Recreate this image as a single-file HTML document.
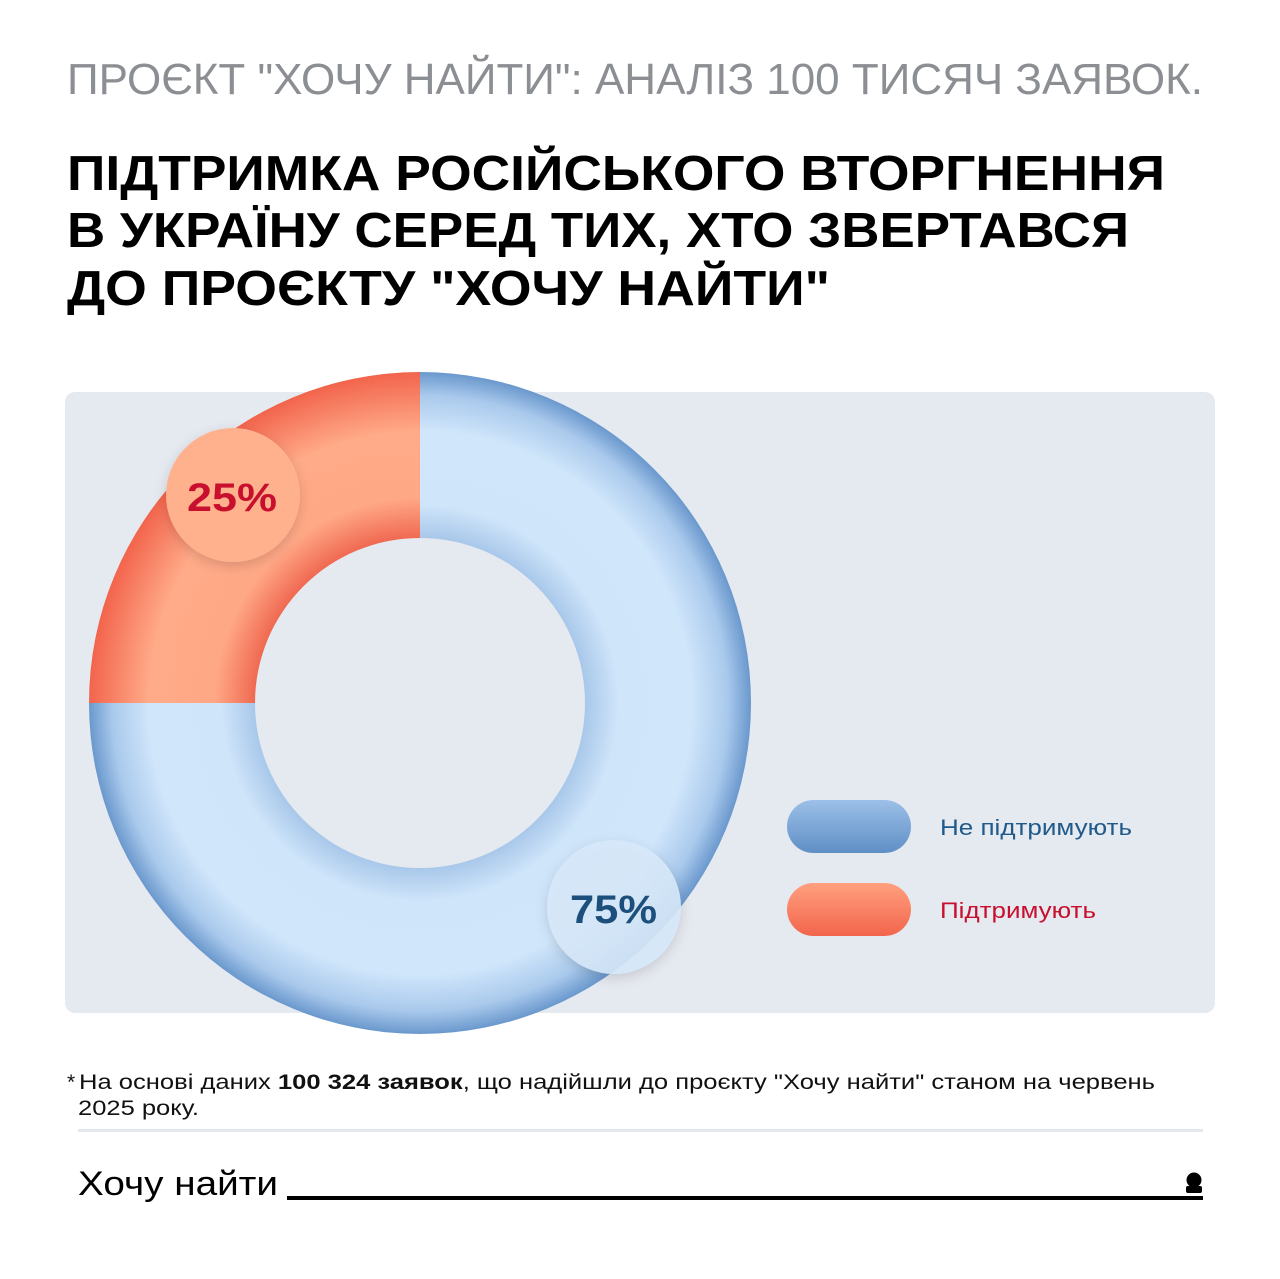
<!DOCTYPE html>
<html><head><meta charset="utf-8"><style>
html,body{margin:0;padding:0;background:#fff}
svg{display:block}
text{font-family:"Liberation Sans",sans-serif}
</style></head><body>
<svg width="1280" height="1279" viewBox="0 0 1280 1279" xmlns="http://www.w3.org/2000/svg">
<defs>
<radialGradient id="gb" cx="420" cy="703" r="331" gradientUnits="userSpaceOnUse">
<stop offset="0.5" stop-color="#a9c8ea"/>
<stop offset="0.6" stop-color="#cfe5fa"/>
<stop offset="0.82" stop-color="#d0e6fb"/>
<stop offset="0.93" stop-color="#a9c9ec"/>
<stop offset="1" stop-color="#6a98cd"/>
</radialGradient>
<radialGradient id="go" cx="420" cy="703" r="331" gradientUnits="userSpaceOnUse">
<stop offset="0.5" stop-color="#f06a52"/>
<stop offset="0.62" stop-color="#ffa886"/>
<stop offset="0.82" stop-color="#ffaa88"/>
<stop offset="1" stop-color="#f2644c"/>
</radialGradient>
<linearGradient id="pb" x1="0" y1="0" x2="0" y2="1"><stop offset="0" stop-color="#9cc0e8"/><stop offset="1" stop-color="#5f8fc6"/></linearGradient>
<linearGradient id="po" x1="0" y1="0" x2="0" y2="1"><stop offset="0" stop-color="#ffa07e"/><stop offset="1" stop-color="#f2654c"/></linearGradient>
<filter id="sh" x="-30%" y="-30%" width="160%" height="160%"><feDropShadow dx="0" dy="4" stdDeviation="6" flood-color="#000" flood-opacity="0.15"/></filter>
</defs>
<text x="67" y="94" font-size="43.5" fill="#8b8e92" textLength="1136" lengthAdjust="spacingAndGlyphs">ПРОЄКТ "ХОЧУ НАЙТИ": АНАЛІЗ 100 ТИСЯЧ ЗАЯВОК.</text>
<g font-size="49" font-weight="bold" fill="#000">
<text x="67" y="190" textLength="1098" lengthAdjust="spacingAndGlyphs">ПІДТРИМКА РОСІЙСЬКОГО ВТОРГНЕННЯ</text>
<text x="67" y="247" textLength="1062" lengthAdjust="spacingAndGlyphs">В УКРАЇНУ СЕРЕД ТИХ, ХТО ЗВЕРТАВСЯ</text>
<text x="67" y="305" textLength="763" lengthAdjust="spacingAndGlyphs">ДО ПРОЄКТУ "ХОЧУ НАЙТИ"</text>
</g>
<rect x="65" y="392" width="1150" height="621" rx="10" fill="#e5e9f0"/>
<path d="M420 372 A331 331 0 1 1 89 703 L255 703 A165 165 0 1 0 420 538 Z" fill="url(#gb)"/>
<path d="M89 703 A331 331 0 0 1 420 372 L420 538 A165 165 0 0 0 255 703 Z" fill="url(#go)"/>
<circle cx="233" cy="495" r="67" fill="#ffb18d" filter="url(#sh)"/>
<text x="187" y="511" font-size="40" font-weight="bold" fill="#c8102e" textLength="90" lengthAdjust="spacingAndGlyphs">25%</text>
<circle cx="614" cy="907" r="67" fill="#d6e8f8" fill-opacity="0.9" filter="url(#sh)"/>
<text x="570" y="923" font-size="40" font-weight="bold" fill="#1c4f7c" textLength="87" lengthAdjust="spacingAndGlyphs">75%</text>
<rect x="787" y="800" width="124" height="53" rx="26.5" fill="url(#pb)"/>
<rect x="787" y="883" width="124" height="53" rx="26.5" fill="url(#po)"/>
<text x="940" y="835" font-size="22" fill="#1f5a8a" textLength="192" lengthAdjust="spacingAndGlyphs">Не підтримують</text>
<text x="940" y="918" font-size="22" fill="#c8102e" textLength="156" lengthAdjust="spacingAndGlyphs">Підтримують</text>
<text x="67" y="1089" font-size="21" fill="#111">*</text>
<text x="79" y="1089" font-size="21" fill="#111" textLength="1076" lengthAdjust="spacingAndGlyphs">На основі даних <tspan font-weight="bold">100 324 заявок</tspan>, що надійшли до проєкту "Хочу найти" станом на червень</text>
<text x="78" y="1115" font-size="21" fill="#111" textLength="121" lengthAdjust="spacingAndGlyphs">2025 року.</text>
<rect x="78" y="1129" width="1125" height="3" fill="#e3e8ee"/>
<text x="78" y="1195" font-size="34" fill="#000" textLength="200" lengthAdjust="spacingAndGlyphs">Хочу найти</text>
<rect x="287" y="1196" width="916" height="4" fill="#000"/>
<circle cx="1194" cy="1180" r="7.5" fill="#000"/>
<rect x="1186" y="1186" width="16" height="7" rx="2" fill="#000"/>
</svg>
</body></html>
